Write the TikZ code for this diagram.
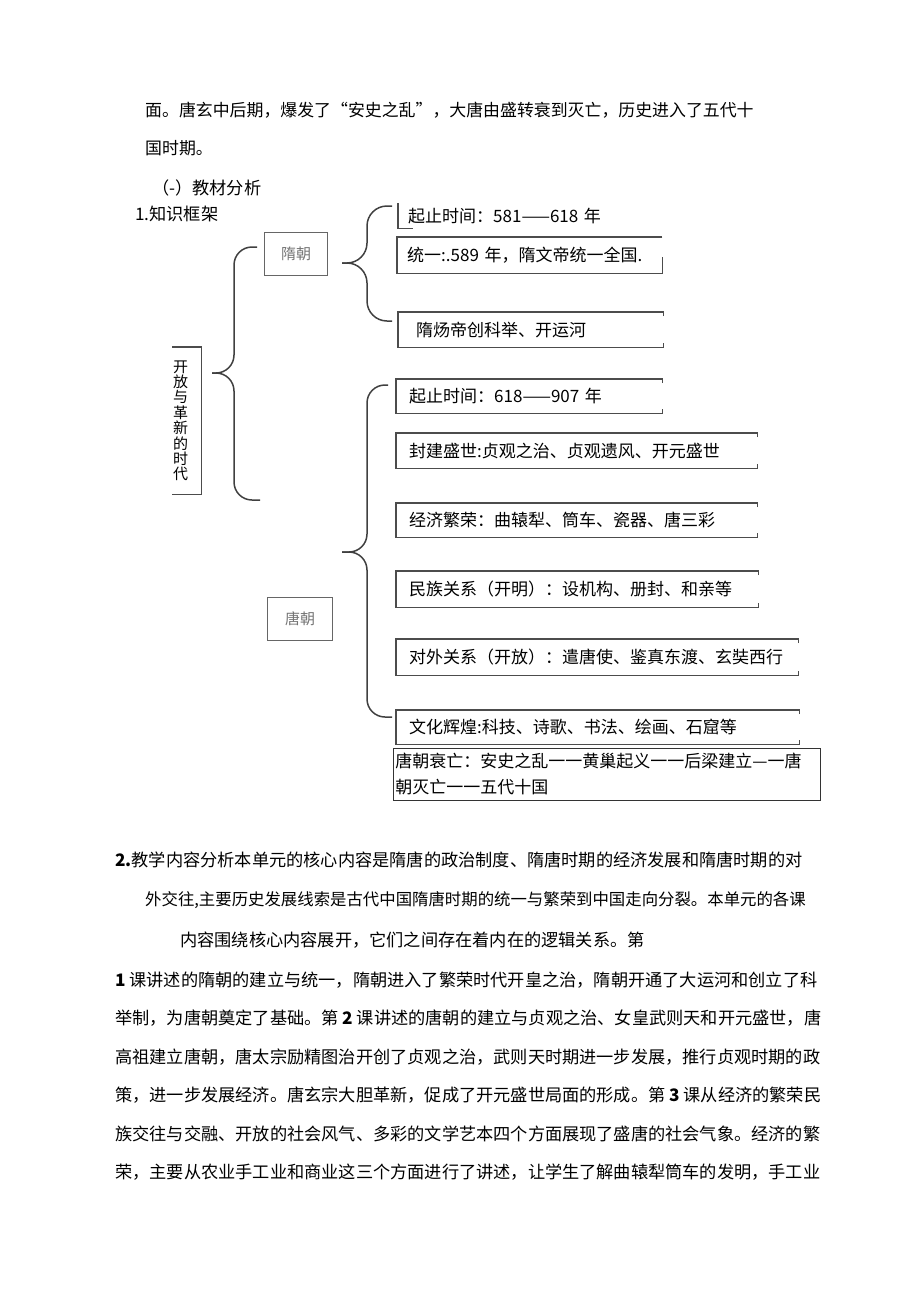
\documentclass[tikz,border=0pt]{standalone}
\usepackage{fontspec}
\setmainfont{Noto Sans CJK SC}
\usetikzlibrary{positioning}
\newcommand\body{\fontsize{17.2}{20}\selectfont}
\newcommand\boxfont{\fontsize{17}{20}\selectfont}
\newcommand\openframe[1]{\draw[boxline] ([yshift=-4pt]#1.north east) -- (#1.north east) -- (#1.north west) -- (#1.south west) -- (#1.south east) -- ([yshift=4pt]#1.south east);}
\tikzset{
	txt/.style = {anchor=west, inner sep=0pt, font=\body},
	entry/.style = {anchor=north west, inner xsep=13pt, inner ysep=0pt,
		align=left, font=\boxfont},
	dynasty/.style = {anchor=north west, draw=black!60, line width=1.3pt,
		text=black!55, font=\fontsize{15}{15}\selectfont, inner sep=0pt,
		minimum width=63pt, minimum height=43pt},
	boxline/.style = {draw=black!70, line width=1.6pt},
	curly/.style = {draw=black!75, line width=1.5pt, rounded corners=18pt}
}
\begin{document}
\begin{tikzpicture}[x=1pt,y=-1pt]
\useasboundingbox (0,0) rectangle (920,1301);
% text above the chart
\node [txt, font=\fontsize{16.9}{20}\selectfont] (intro1) at (145,110) {面。唐玄中后期，爆发了“安史之乱”，大唐由盛转衰到灭亡，历史进入了五代十};
\node [txt, font=\fontsize{16.9}{20}\selectfont] (intro2) at (145,148) {国时期。};
\node [txt] (sec) at (152,188) {（-）教材分析};
\node [txt] (kj) at (135,214) {1.知识框架};

% chart
\node [entry, inner xsep=1pt, text width=15pt, align=center, minimum height=147pt,
	font=\fontsize{15}{15.4}\selectfont] (era) at (172,347) {开\\放\\与\\革\\新\\的\\时\\代};
\draw [boxline] (era.north west) -- ([xshift=12pt]era.north east) -- ([xshift=12pt]era.south east) -- (era.south west);
\node [dynasty] (sui) at (264,232) {隋朝};
\node [dynasty, minimum width=65pt] (tang) at (267,597) {唐朝};

\node [entry, inner xsep=10pt, text width=245pt, minimum height=25pt] (s1) at (398,203) {起止时间：581——618 年};
\node [entry, inner xsep=10pt, text width=245pt, minimum height=36pt] (s2) at (397,237) {统一:.589 年，隋文帝统一全国.};
\node [entry, inner xsep=18pt, text width=229pt, minimum height=35pt] (s3) at (398,312) {隋炀帝创科举、开运河};
\draw [boxline] (s1.north west) -- (s1.south west) -- ([xshift=15pt]s1.south west);
\draw [boxline] (s2.north east) -- (s2.north west) -- (s2.south west) -- (s2.south east) -- ([yshift=16pt]s2.south east);
\openframe{s3}

\node [entry, text width=240pt, minimum height=34pt] (t1) at (396,379) {起止时间：618——907 年};
\node [entry, text width=335pt, minimum height=35pt] (t2) at (396,433) {封建盛世:贞观之治、贞观遗风、开元盛世};
\node [entry, text width=335pt, minimum height=34pt] (t3) at (396,503) {经济繁荣：曲辕犁、筒车、瓷器、唐三彩};
\node [entry, text width=336pt, minimum height=36pt] (t4) at (396,571) {民族关系（开明）：设机构、册封、和亲等};
\node [entry, text width=376pt, minimum height=36pt] (t5) at (396,639) {对外关系（开放）：遣唐使、鉴真东渡、玄奘西行};
\node [entry, text width=377pt, minimum height=34pt] (t6) at (396,710) {文化辉煌:科技、诗歌、书法、绘画、石窟等};
\node [entry, inner xsep=2pt, text width=423pt, minimum height=52pt, draw=black!80, line width=0.8pt,
	font=\fontsize{17}{26}\selectfont] (t7) at (393,748) {唐朝衰亡：安史之乱一一黄巢起义一一后梁建立—一唐\\朝灭亡一一五代十国};
\foreach \b in {t1,t2,t3,t4,t5,t6} {\openframe{\b}}

% braces
\coordinate (eratip) at (212,373);
\coordinate (eraspine) at (234,373);
\coordinate (eratop) at (257,247);
\coordinate (erabot) at (260,500);
\draw [curly] (eratip) -| (eraspine |- eratop) -- (eratop);
\draw [curly] (eratip) -| (eraspine |- erabot) -- (erabot);
\coordinate (suitip) at (342,263);
\coordinate (suispine) at (367,263);
\coordinate (suitop) at (392,206);
\coordinate (suibot) at (392,321);
\draw [curly, rounded corners=20pt] (suitip) -| (suispine |- suitop) -- (suitop);
\draw [curly, rounded corners=20pt] (suitip) -| (suispine |- suibot) -- (suibot);
\coordinate (tangtip) at (342,552);
\coordinate (tangspine) at (367,552);
\coordinate (tangtop) at (388,385);
\coordinate (tangbot) at (392,717);
\draw [curly] (tangtip) -| (tangspine |- tangtop) -- (tangtop);
\draw [curly] (tangtip) -| (tangspine |- tangbot) -- (tangbot);

% text below the chart
\node [txt] (para1) at (115,860) {\textbf{2.}教学内容分析本单元的核心内容是隋唐的政治制度、隋唐时期的经济发展和隋唐时期的对};
\node [txt, font=\fontsize{16.4}{20}\selectfont] (para2) at (145,900) {外交往,主要历史发展线索是古代中国隋唐时期的统一与繁荣到中国走向分裂。本单元的各课};
\node [txt] (para3) at (180,940) {内容围绕核心内容展开，它们之间存在着内在的逻辑关系。第};
\node [txt] (para4) at (115,980) {\textbf{1} 课讲述的隋朝的建立与统一，隋朝进入了繁荣时代开皇之治，隋朝开通了大运河和创立了科};
\node [txt] (para5) at (115,1018) {举制，为唐朝奠定了基础。第 \textbf{2} 课讲述的唐朝的建立与贞观之治、女皇武则天和开元盛世，唐};
\node [txt] (para6) at (115,1057) {高祖建立唐朝，唐太宗励精图治开创了贞观之治，武则天时期进一步发展，推行贞观时期的政};
\node [txt] (para7) at (115,1095) {策，进一步发展经济。唐玄宗大胆革新，促成了开元盛世局面的形成。第 \textbf{3} 课从经济的繁荣民};
\node [txt] (para8) at (115,1134) {族交往与交融、开放的社会风气、多彩的文学艺本四个方面展现了盛唐的社会气象。经济的繁};
\node [txt] (para9) at (115,1172) {荣，主要从农业手工业和商业这三个方面进行了讲述，让学生了解曲辕犁筒车的发明，手工业};
\end{tikzpicture}
\end{document}
